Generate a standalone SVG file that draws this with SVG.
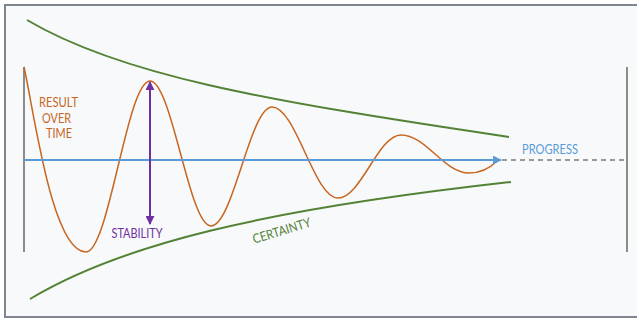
<svg xmlns="http://www.w3.org/2000/svg" width="637" height="321" viewBox="0 0 637 321">
<defs>
<style>
.lbl{font-family:"Lato","Liberation Sans","DejaVu Sans",sans-serif;font-size:13px}
.axis{stroke:#8c8c8c;stroke-width:2;fill:none}
.green{stroke:#548235;stroke-width:2;fill:none}
</style>
<marker id="blueHead" viewBox="0 0 10 10" refX="9" refY="5" markerWidth="4.5" markerHeight="4.5" orient="auto" markerUnits="strokeWidth">
<path d="M0,0 L10,5 L0,10 Z" fill="#5b9bd5"/>
</marker>
<marker id="purpleHead" viewBox="0 0 10 10" refX="9" refY="5" markerWidth="4.5" markerHeight="4.5" orient="auto-start-reverse" markerUnits="strokeWidth">
<path d="M0,0 L10,5 L0,10 Z" fill="#7030a0"/>
</marker>
</defs>
<rect x="0" y="0" width="637" height="321" fill="#ffffff"/>
<rect id="frame" x="5" y="5" width="633" height="312" fill="#f7f9fb" stroke="#7f8591" stroke-width="2"/>

<g id="axes">
<line class="axis" x1="24" y1="67" x2="24" y2="252"/>
<line class="axis" x1="627" y1="67" x2="627" y2="252"/>
</g>

<g id="certainty-bounds">
<path class="green" d="M27,20 C120,75 260,100 509,137"/>
<path class="green" d="M30,299 C120,245 260,210 511,182"/>
</g>

<g id="result-curve">
<path d="M24,67 C34,111 52,252 86,252 C109,252 127,81 150,81 C172,81 189,226 211,226 C233,226 250,107 272,107 C296,107 314,198 338,198 C361,198 378,135 401,135 C426,135 444,173 469,173 C480,173 490,168 497,161" fill="none" stroke="#c9651d" stroke-width="1.5"/>
</g>

<g id="connectors">
<line id="progress-arrow" x1="24" y1="160" x2="501" y2="160" stroke="#5b9bd5" stroke-width="2" marker-end="url(#blueHead)"/>
<line id="progress-dashed" x1="502" y1="160" x2="627" y2="160" stroke="#9a9a9a" stroke-width="2" stroke-dasharray="5,4"/>
<line id="stability-arrow" x1="150" y1="82" x2="150" y2="224" stroke="#7030a0" stroke-width="2" marker-start="url(#purpleHead)" marker-end="url(#purpleHead)"/>
</g>

<g id="labels">
<text class="lbl" fill="#c9651d" text-anchor="middle"><tspan x="58.5" y="107" textLength="39" lengthAdjust="spacingAndGlyphs">RESULT</tspan><tspan x="56.5" y="122.5" textLength="29" lengthAdjust="spacingAndGlyphs">OVER</tspan><tspan x="59" y="138" textLength="26" lengthAdjust="spacingAndGlyphs">TIME</tspan></text>
<text class="lbl" fill="#7030a0" x="137" y="238" text-anchor="middle" textLength="51" lengthAdjust="spacingAndGlyphs">STABILITY</text>
<text class="lbl" fill="#5b9bd5" x="550" y="154" text-anchor="middle" textLength="56" lengthAdjust="spacingAndGlyphs">PROGRESS</text>
<text class="lbl" fill="#548235" x="0" y="0" text-anchor="middle" textLength="60" lengthAdjust="spacingAndGlyphs" transform="translate(283,235) rotate(-17)">CERTAINTY</text>
</g>
</svg>
